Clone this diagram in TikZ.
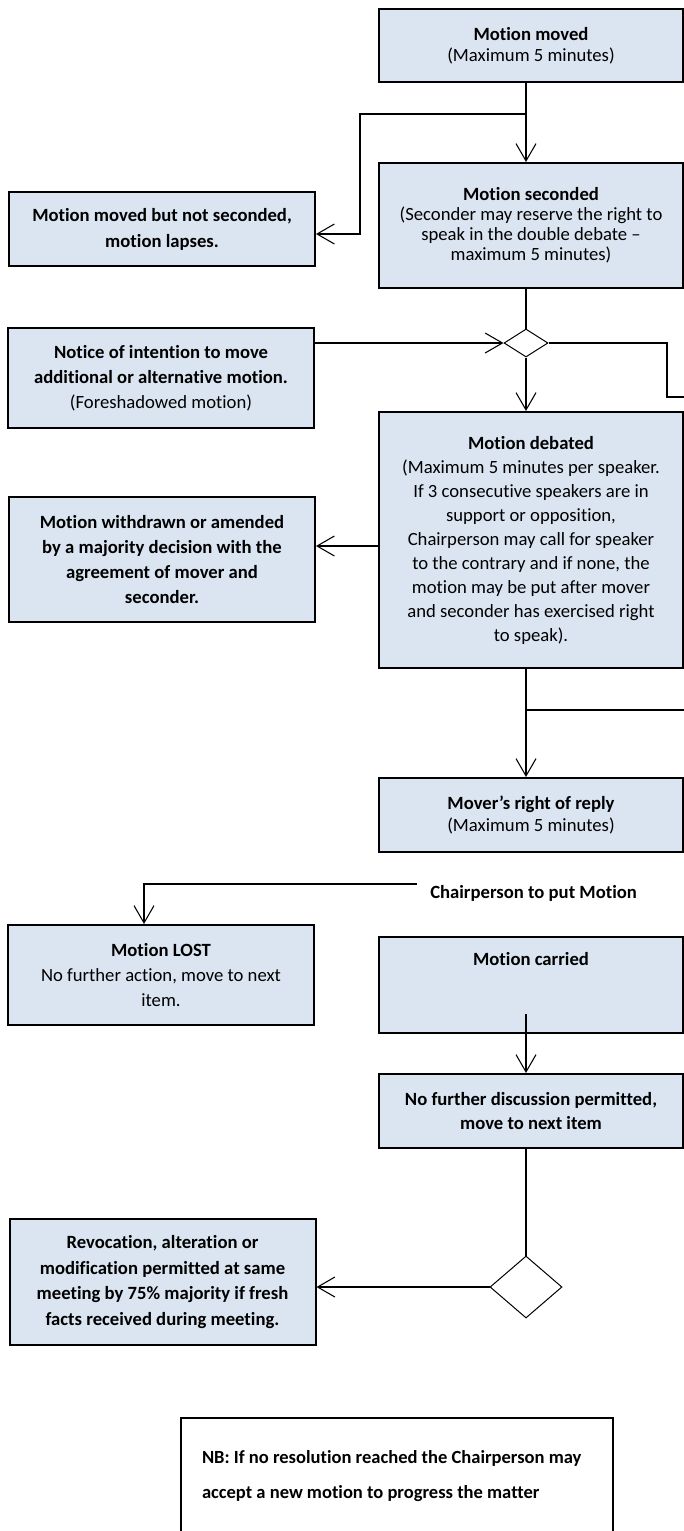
\documentclass[tikz,border=0pt]{standalone}
\usepackage{fontspec}
\setmainfont{Carlito}[Ligatures={NoCommon}]
\usetikzlibrary{arrows.meta,shapes.geometric,calc}
\definecolor{boxfill}{HTML}{DBE5F1}
\begin{document}
\begin{tikzpicture}[x=0.75pt,y=-0.75pt,
  box/.style={draw=black,line width=1.5pt,fill=boxfill,inner sep=0pt,align=center},
  lbox/.style={box,minimum width=229.5pt},
  rbox/.style={box,minimum width=228pt},
  fs/.style={font=\fontsize{14}{#1}\selectfont},
  link/.style={line width=1.5pt},
  arr/.style={link,-{Straight Barb[length=13pt,width=15pt,line width=0.8pt]}},
  gate/.style={diamond,draw=black,line width=0.75pt,fill=white,inner sep=0pt},
]
\path[fill=white,use as bounding box] (0,0) rectangle (684,1531);

% main column
\coordinate (cx) at (526,0);
\node[rbox,fs=15.75,minimum height=54.75pt] (moved) at (531,45.5)
  {\textbf{Motion moved}\\(Maximum 5 minutes)};
\node[rbox,fs=15,minimum height=93.75pt] (seconded) at (531,225.5)
  {\textbf{Motion seconded}\\(Seconder may reserve the right to\\speak in the double debate –\\maximum 5 minutes)};
\node[gate,minimum width=33pt,minimum height=21pt] (d1) at (526,343) {};
\node[rbox,fs=18,minimum height=192pt] (debated) at (531,540)
  {\textbf{Motion debated}\\(Maximum 5 minutes per speaker.\\If 3 consecutive speakers are in\\support or opposition,\\Chairperson may call for speaker\\to the contrary and if none, the\\motion may be put after mover\\and seconder has exercised right\\to speak).};
\node[rbox,fs=16.5,minimum height=55.5pt] (mover) at (531,815)
  {\textbf{Mover’s right of reply}\\(Maximum 5 minutes)};
\node[anchor=west,inner sep=0pt,font=\fontsize{14}{16}\selectfont\bfseries] (chair) at (430,893)
  {Chairperson to put Motion};
\node[rbox,fs=16,minimum height=72pt,text height=21pt,text depth=51pt] (carried) at (531,985)
  {\textbf{Motion carried}};
\node[rbox,fs=18,minimum height=55.5pt] (nofurther) at (531,1111)
  {\textbf{No further discussion permitted,}\\\textbf{move to next item}};
\node[gate,minimum width=54pt,minimum height=46.5pt] (d2) at (526,1287) {};

% side outcomes
\node[lbox,fs=19.5,minimum height=55.5pt] (lapsed) at (162,229)
  {\textbf{Motion moved but not seconded,}\\\textbf{motion lapses.}};
\node[lbox,fs=18.75,minimum height=75pt] (notice) at (161,378)
  {\textbf{Notice of intention to move}\\\textbf{additional or alternative motion.}\\(Foreshadowed motion)};
\node[lbox,fs=18.75,minimum height=93.75pt] (withdrawn) at (162,559.5)
  {\textbf{Motion withdrawn or amended}\\\textbf{by a majority decision with the}\\\textbf{agreement of mover and}\\\textbf{seconder.}};
\node[lbox,fs=18.4,minimum height=75pt] (lost) at (161,975)
  {\textbf{Motion LOST}\\No further action, move to next\\item.};
\node[lbox,fs=19.3,minimum height=94.5pt] (revocation) at (162.5,1282)
  {\textbf{Revocation, alteration or}\\\textbf{modification permitted at same}\\\textbf{meeting by 75\% majority if fresh}\\\textbf{facts received during meeting.}};

% note at the foot of the page
\node[draw=black,line width=1.5pt,minimum width=324pt,minimum height=87pt,
      inner xsep=15.75pt,inner ysep=0pt,text width=292.5pt,align=flush left,
      font=\fontsize{13.9}{26.25}\selectfont\bfseries] (nb) at (397,1476)
  {NB: If no resolution reached the Chairperson may\\accept a new motion to progress the matter};

% connectors
\coordinate (split1) at (526,114);
\coordinate (split2) at (526,710);
\coordinate (offA) at (700,397);
\coordinate (offB) at (700,710);
\coordinate (w1) at (0,546);

\draw[arr] (moved.south -| cx) -- (seconded.north -| cx);
\draw[arr] (split1) -- (360,114) |- ($(lapsed.east)+(0,5)$);
\draw[link] (seconded.south -| cx) -- (d1.north);
\draw[arr] (notice.east |- d1.west) -- (d1.west);
\draw[arr] (d1.south) -- (debated.north -| d1.south);
\draw[link] (d1.east) -| (667,397) -- (offA);
\draw[arr] (debated.west |- w1) -- (withdrawn.east |- w1);
\draw[arr] (debated.south -| cx) -- (mover.north -| cx);
\draw[link] (split2) -- (offB);
\draw[arr] ($(chair.west)+(-13,-9)$) -| ($(lost.north)+(-17,0)$);
\draw[arr] ($(carried.south -| cx)+(0,-20)$) -- (nofurther.north -| cx);
\draw[link] (nofurther.south -| cx) -- (d2.north);
\draw[arr] (d2.west) -- (revocation.east |- d2.west);
\end{tikzpicture}
\end{document}
